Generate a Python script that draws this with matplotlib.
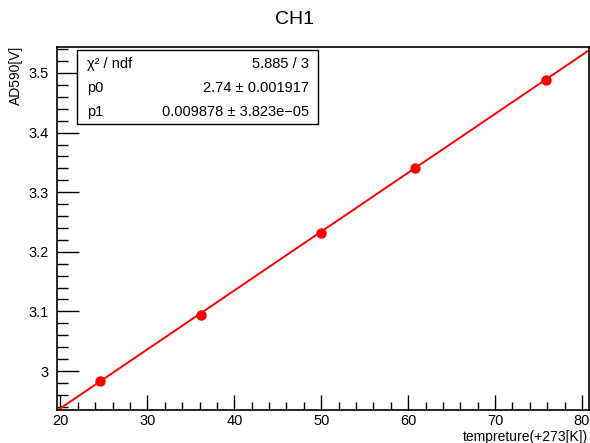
import matplotlib
matplotlib.use("Agg")
import matplotlib.pyplot as plt
import numpy as np
from matplotlib.ticker import MultipleLocator

plt.rcParams['font.family'] = ['Liberation Sans', 'DejaVu Sans']

# measured points
temp = [24.6, 36.2, 50.0, 60.8, 75.8]
volt = [2.983, 3.094, 3.232, 3.341, 3.489]

# fit result from the stats box
p0 = 2.74
p1 = 0.009878
stat_names = ["χ² / ndf", "p0", "p1"]
stat_values = ["5.885 / 3", "2.74 ± 0.001917", "0.009878 ± 3.823e−05"]

fig = plt.figure(figsize=(5.9, 4.43), dpi=100)
ax = fig.add_axes([0.0966, 0.0745, 0.9017, 0.8194])

xlim = (19.6, 80.8)
ylim = (2.9346, 3.5436)
ax.set_xlim(xlim)
ax.set_ylim(ylim)

# fit line over full range
xf = np.array(xlim)
ax.plot(xf, p0 + p1 * xf, color='red', lw=1.4, zorder=2)
ax.plot(temp, volt, 'o', color='red', ms=6.5, zorder=3)

# ROOT-like axes
for s in ax.spines.values():
    s.set_linewidth(1.2)
ax.xaxis.set_major_locator(MultipleLocator(10))
ax.xaxis.set_minor_locator(MultipleLocator(2))
ax.yaxis.set_major_locator(MultipleLocator(0.1))
ax.yaxis.set_minor_locator(MultipleLocator(0.02))
ax.tick_params(axis='x', which='major', direction='in', length=11, width=1, labelsize=10.5, pad=3)
ax.tick_params(axis='x', which='minor', direction='in', length=5.5, width=1)
ax.tick_params(axis='y', which='major', direction='in', length=16, width=1, labelsize=10.5, pad=6)
ax.tick_params(axis='y', which='minor', direction='in', length=8, width=1)
ax.yaxis.set_major_formatter(matplotlib.ticker.FuncFormatter(lambda v, p: ("%g" % round(v, 3))))

# axis titles, ROOT places them at the far end of the axes
fig.text(588 / 590, 1 - 437 / 443, "tempreture(+273[K])", ha='right', va='center', fontsize=10)
fig.text(16 / 590, 1 - 46 / 443, "AD590[V]", ha='center', va='top', rotation=90, fontsize=10)

fig.text(0.5, 0.955, "CH1", ha='center', va='center', fontsize=14)

# stats box
bx0, bx1 = 77 / 590, 318 / 590
by0, by1 = 1 - 124 / 443, 1 - 50 / 443
fig.patches.append(plt.Rectangle((bx0, by0), bx1 - bx0, by1 - by0, transform=fig.transFigure,
                                 facecolor='white', edgecolor='black', lw=1.0, zorder=5))
rows_y = [64, 88, 112]
for name, val, yy in zip(stat_names, stat_values, rows_y):
    fig.text(87 / 590, 1 - yy / 443, name, ha='left', va='center', fontsize=10.5, zorder=6)
    fig.text(309 / 590, 1 - yy / 443, val, ha='right', va='center', fontsize=10.5, zorder=6)

fig.savefig("out.png", dpi=100)
